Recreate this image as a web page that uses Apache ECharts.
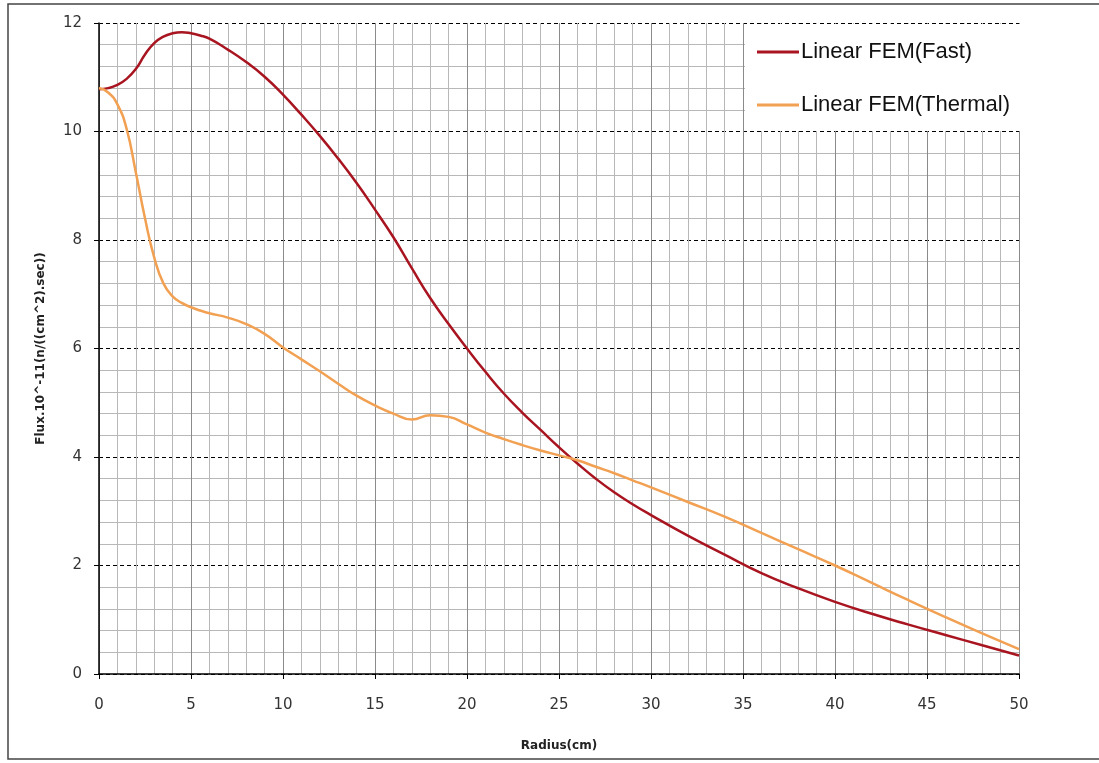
<!DOCTYPE html>
<html>
<head>
  <meta charset="utf-8">
  <title>Linear FEM flux</title>
  <script src="https://cdn.jsdelivr.net/npm/echarts@6/dist/echarts.min.js"></script>
  <style>
    html, body { margin: 0; padding: 0; background: #fff; }
  </style>
</head>
<body>
  <div id="main" style="width: 1099px;height:763px;"></div>
  <script type="text/javascript">
    // radius (cm)
    var radius = [0, 0.5, 1, 1.5, 2, 2.5, 3, 3.5, 4, 4.5, 5, 5.5, 6, 7, 8, 9, 10, 11, 12, 13, 14, 15, 16, 17, 18, 19, 20,
      21, 22, 23, 24, 25, 26, 27, 28, 29, 30, 32, 34, 36, 38, 40, 42, 44, 46, 48, 50];
    // flux values, 10^11 n/(cm^2.sec)
    var fast = [10.78, 10.8, 10.86, 10.97, 11.15, 11.42, 11.63, 11.75, 11.81, 11.83, 11.81, 11.77, 11.71, 11.51, 11.28, 11.01, 10.68,
      10.31, 9.92, 9.5, 9.05, 8.56, 8.05, 7.48, 6.93, 6.45, 6.0,
      5.57, 5.17, 4.82, 4.5, 4.18, 3.88, 3.6, 3.35, 3.13, 2.93, 2.55, 2.2, 1.86, 1.58, 1.33, 1.11, 0.91, 0.72, 0.53, 0.34];
    var thermal = [10.8, 10.72, 10.5, 10.05, 9.25, 8.4, 7.68, 7.2, 6.96, 6.84, 6.76, 6.7, 6.65, 6.57, 6.45, 6.27, 6.02,
      5.8, 5.58, 5.35, 5.13, 4.95, 4.8, 4.69, 4.77, 4.74, 4.6,
      4.45, 4.33, 4.22, 4.12, 4.03, 3.94, 3.82, 3.7, 3.57, 3.44, 3.17, 2.9, 2.6, 2.3, 2.0, 1.68, 1.36, 1.05, 0.75, 0.46];
    var seriesNames = ['Linear FEM(Fast)', 'Linear FEM(Thermal)'];
    var seriesColors = ['#a8141f', '#f2a052'];

    function pairs(ys) {
      return radius.map(function (x, i) { return [x, ys[i]]; });
    }

    var myChart = echarts.init(document.getElementById('main'), null, { renderer: 'canvas' });
    var option = {
      backgroundColor: '#fff',
      animation: false,
      graphic: [
        {
          type: 'rect', z: 3,
          shape: { x: 745, y: 24, width: 360, height: 107 },
          style: { fill: '#fff' }
        },
        {
          type: 'rect', z: 20,
          shape: { x: 8, y: 4, width: 1100, height: 755 },
          style: { fill: 'none', stroke: '#444', lineWidth: 1.5 }
        }
      ],
      legend: {
        orient: 'vertical',
        left: 752,
        top: 36,
        z: 10,
        icon: 'rect',
        itemGap: 31,
        itemWidth: 42,
        itemHeight: 3,
        textStyle: { fontFamily: 'Liberation Sans', fontSize: 22, color: '#111', padding: [0, 0, 0, -3] },
        data: seriesNames
      },
      grid: { left: 99, top: 23, right: 80, bottom: 89 },
      xAxis: {
        type: 'value',
        min: 0, max: 50, interval: 5,
        name: 'Radius(cm)',
        nameLocation: 'middle',
        nameGap: 66,
        nameTextStyle: { fontFamily: 'DejaVu Sans', fontWeight: 'bold', fontSize: 12, color: '#222' },
        axisLine: { lineStyle: { color: '#000', width: 1.5 } },
        axisTick: { show: true, length: 5, lineStyle: { color: '#000' } },
        axisLabel: { margin: 24, fontFamily: 'DejaVu Sans', fontSize: 15, color: '#333' },
        splitLine: { show: true, lineStyle: { color: '#8a8a8a', width: 1 } },
        minorTick: { show: false, splitNumber: 5 },
        minorSplitLine: { show: true, lineStyle: { color: '#b8b8b8', width: 1 } }
      },
      yAxis: {
        type: 'value',
        min: 0, max: 12, interval: 2,
        name: 'Flux.10^-11(n/((cm^2).sec))',
        nameLocation: 'middle',
        nameGap: 52,
        nameTextStyle: { fontFamily: 'DejaVu Sans', fontWeight: 'bold', fontSize: 12, color: '#222' },
        axisLine: { show: true, lineStyle: { color: '#000', width: 1.5 } },
        axisTick: { show: true, length: 5, lineStyle: { color: '#000' } },
        axisLabel: { margin: 17, fontFamily: 'DejaVu Sans', fontSize: 15, color: '#333' },
        splitLine: { show: true, lineStyle: { color: '#000', type: [4, 3], width: 1 } },
        minorTick: { show: false, splitNumber: 5 },
        minorSplitLine: { show: true, lineStyle: { color: '#b8b8b8', width: 1 } }
      },
      series: [
        {
          name: seriesNames[0],
          type: 'line',
          smooth: 0.5,
          symbol: 'none',
          color: seriesColors[0],
          lineStyle: { width: 2.5, color: seriesColors[0] },
          data: pairs(fast)
        },
        {
          name: seriesNames[1],
          type: 'line',
          smooth: 0.5,
          symbol: 'none',
          color: seriesColors[1],
          lineStyle: { width: 2.5, color: seriesColors[1] },
          data: pairs(thermal)
        }
      ]
    };
    myChart.setOption(option);
  </script>
</body>
</html>
